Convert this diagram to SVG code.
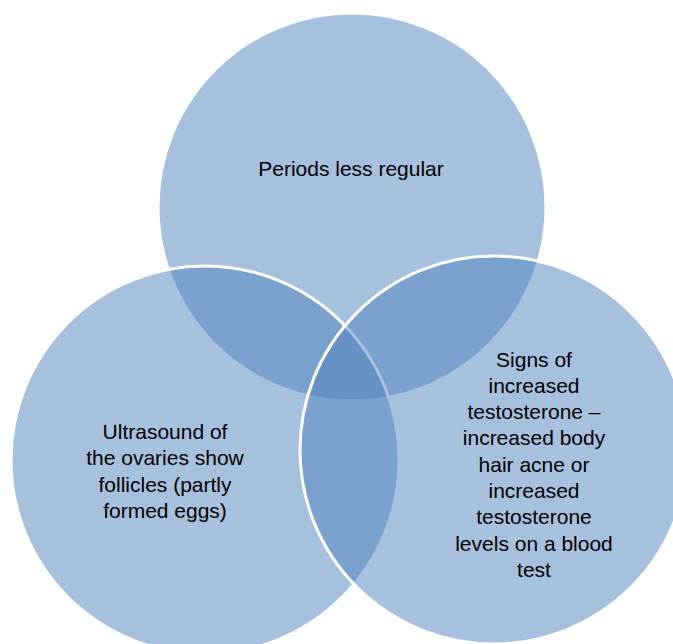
<svg xmlns="http://www.w3.org/2000/svg" width="673" height="644" viewBox="0 0 673 644">
  <style>
    .set { fill: #4F81BD; fill-opacity: 0.5; stroke: #FFFFFF; stroke-width: 3; }
    .label { font-family: "Liberation Sans", Arial, sans-serif; font-size: 21px; fill: #000000; text-anchor: middle; }
  </style>
  <rect width="673" height="644" fill="#FFFFFF"/>

  <!-- top set -->
  <g id="periods">
    <circle class="set" cx="352" cy="207" r="194"/>
    <text class="label" x="351" y="176">Periods less regular</text>
  </g>

  <!-- lower-left set -->
  <g id="ultrasound">
    <circle class="set" cx="205" cy="460" r="194"/>
    <text class="label" x="165" y="439">Ultrasound of</text>
    <text class="label" x="165" y="465.3">the ovaries show</text>
    <text class="label" x="165" y="491.6">follicles (partly</text>
    <text class="label" x="165" y="518">formed eggs)</text>
  </g>

  <!-- lower-right set -->
  <g id="testosterone">
    <circle class="set" cx="494" cy="450" r="194"/>
    <text class="label" x="534" y="366.5">Signs of</text>
    <text class="label" x="534" y="392.8">increased</text>
    <text class="label" x="534" y="419.1">testosterone –</text>
    <text class="label" x="534" y="445.4">increased body</text>
    <text class="label" x="534" y="471.7">hair acne or</text>
    <text class="label" x="534" y="498">increased</text>
    <text class="label" x="534" y="524.3">testosterone</text>
    <text class="label" x="534" y="550.6">levels on a blood</text>
    <text class="label" x="534" y="576.9">test</text>
  </g>
</svg>
